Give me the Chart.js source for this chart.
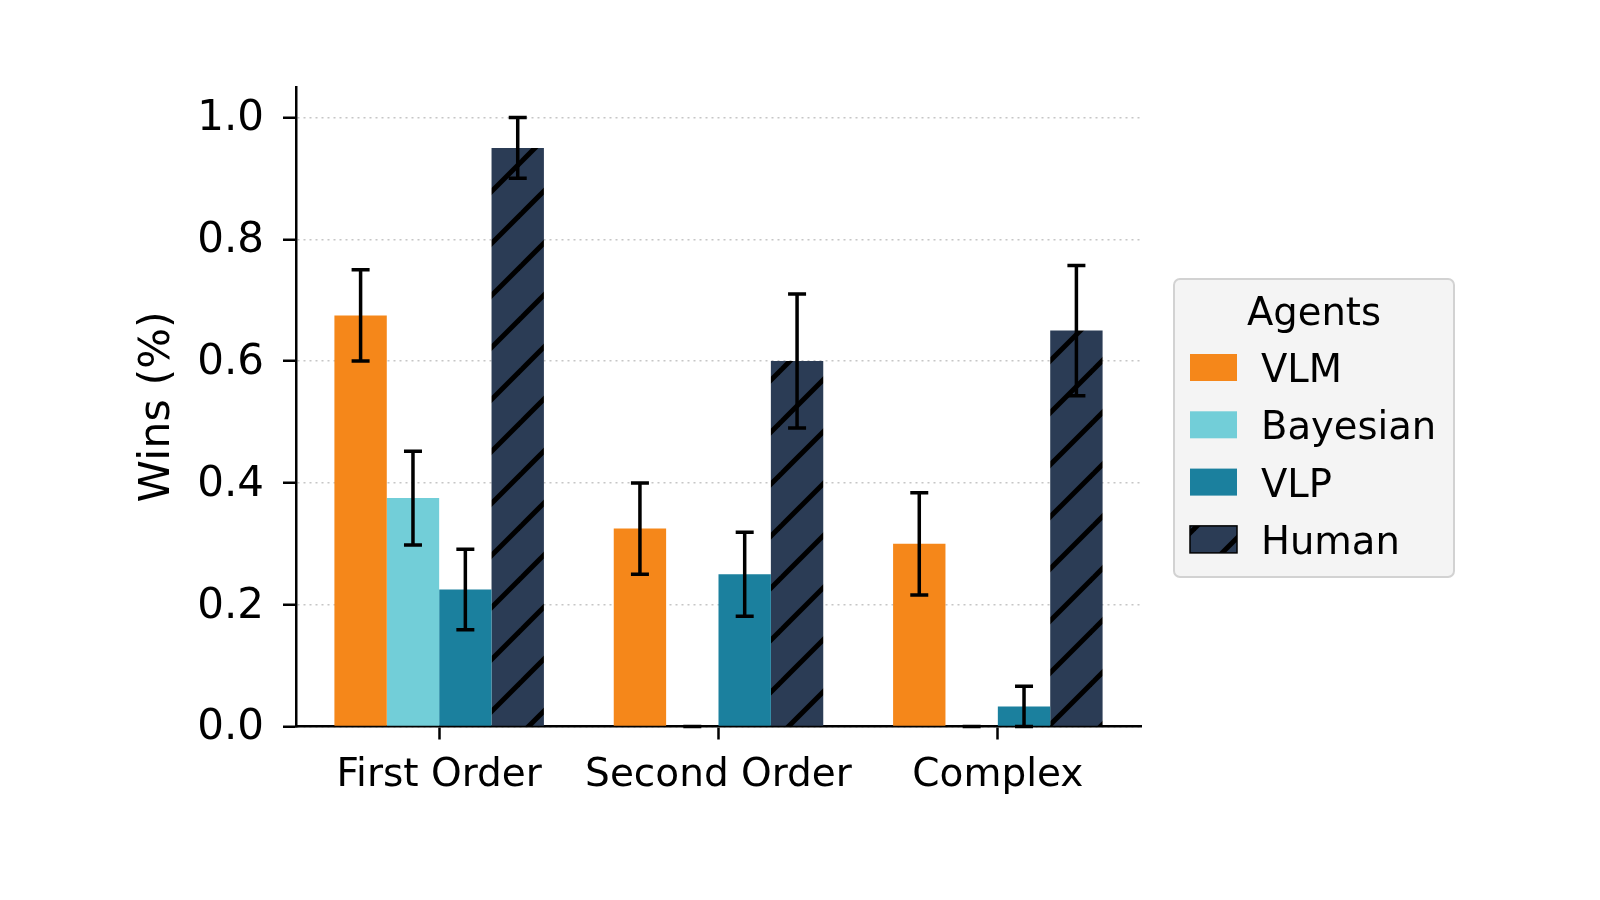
<!DOCTYPE html>
<html><head><meta charset="utf-8">
<script src="https://cdn.jsdelivr.net/npm/chart.js@4.4.1/dist/chart.umd.min.js"></script>
<style>html,body{margin:0;padding:0;background:#fff;}#wrap{width:1600px;height:900px;position:relative;}</style>
</head><body><div id="wrap"><canvas id="c"></canvas></div>
<script>
const categories = ['First Order', 'Second Order', 'Complex'];
const agentNames = ['VLM', 'Bayesian', 'VLP', 'Human'];
const vlmWins = [0.675, 0.325, 0.30];
const vlmErr = [0.075, 0.075, 0.084];
const bayesianWins = [0.375, 0.0, 0.0];
const bayesianErr = [0.077, 0.0, 0.0];
const vlpWins = [0.225, 0.25, 0.033];
const vlpErr = [0.066, 0.069, 0.033];
const humanWins = [0.95, 0.60, 0.65];
const humanErr = [0.05, 0.11, 0.107];
const yTickValues = [0, 0.2, 0.4, 0.6, 0.8, 1.0];
const yTickLabels = ['0.0', '0.2', '0.4', '0.6', '0.8', '1.0'];
const legendTitle = 'Agents';
const yAxisTitle = 'Wins (%)';

const FONT = "'DejaVu Sans', sans-serif";
const colors = ['#f5871a', '#72ced8', '#1b809e', '#2b3c55'];

function makeHatch(bg) {
  const S = 52, off = 7;
  const c = document.createElement('canvas');
  c.width = S; c.height = S;
  const g = c.getContext('2d');
  g.fillStyle = bg; g.fillRect(0, 0, S, S);
  g.strokeStyle = '#000'; g.lineWidth = 5;
  for (const k of [-1, 0, 1, 2]) {
    const cc = off + k * S;
    g.beginPath(); g.moveTo(cc + 100, -100); g.lineTo(cc - 100, 100); g.stroke();
  }
  return g.createPattern(c, 'repeat');
}
const hatch = makeHatch(colors[3]);

const seriesValues = [vlmWins, bayesianWins, vlpWins, humanWins];
const seriesErr = [vlmErr, bayesianErr, vlpErr, humanErr];

const errorBars = {
  id: 'errorBars',
  afterDatasetsDraw(chart) {
    const ctx = chart.ctx, y = chart.scales.y;
    ctx.save();
    ctx.strokeStyle = '#000'; ctx.lineWidth = 3.5; ctx.lineCap = 'butt';
    chart.data.datasets.forEach((ds, di) => {
      const meta = chart.getDatasetMeta(di);
      meta.data.forEach((bar, i) => {
        const v = ds.data[i], e = ds.err[i];
        const yt = y.getPixelForValue(v + e), yb = y.getPixelForValue(Math.max(0, v - e));
        const x = bar.x, cap = 9;
        ctx.beginPath();
        ctx.moveTo(x, yt); ctx.lineTo(x, yb);
        ctx.moveTo(x - cap, yt); ctx.lineTo(x + cap, yt);
        ctx.moveTo(x - cap, yb); ctx.lineTo(x + cap, yb);
        ctx.stroke();
      });
    });
    ctx.restore();
  }
};

const boxLegend = {
  id: 'boxLegend',
  afterDraw(chart) {
    const ctx = chart.ctx;
    ctx.save();
    const bx = 1174, by = 279, bw = 280, bh = 298;
    ctx.beginPath(); ctx.roundRect(bx, by, bw, bh, 6);
    ctx.fillStyle = '#f4f4f4'; ctx.fill();
    ctx.strokeStyle = '#d2d2d2'; ctx.lineWidth = 2; ctx.stroke();
    ctx.fillStyle = '#000';
    ctx.font = '38.5px ' + FONT;
    ctx.textAlign = 'center'; ctx.textBaseline = 'alphabetic';
    ctx.fillText(legendTitle, bx + bw / 2, 325);
    ctx.textAlign = 'left';
    chart.data.datasets.forEach((ds, i) => {
      const py = 354 + i * 57.3;
      ctx.fillStyle = ds.backgroundColor;
      ctx.fillRect(1190, py, 47, 27);
      if (i === 3) { ctx.strokeStyle = '#000'; ctx.lineWidth = 1.5; ctx.strokeRect(1190, py, 47, 27); }
      ctx.fillStyle = '#000';
      ctx.fillText(ds.label, 1261, py + 28);
    });
    ctx.restore();
  }
};

new Chart(document.getElementById('c'), {
  type: 'bar',
  data: {
    labels: categories,
    datasets: agentNames.map((n, i) => ({
      label: n,
      data: seriesValues[i],
      err: seriesErr[i],
      backgroundColor: i === 3 ? hatch : colors[i],
      borderWidth: 0,
      categoryPercentage: 0.75,
      barPercentage: 1.0
    }))
  },
  options: {
    responsive: true, maintainAspectRatio: false, animation: false,
    devicePixelRatio: 1,
    layout: { padding: { top: 87, right: 459, bottom: 0, left: 0 } },
    plugins: { legend: { display: false }, tooltip: { enabled: false } },
    scales: {
      x: {
        afterFit(s) { s.height = 173.5; },
        afterBuildTicks(s) {
          // matplotlib-like x limits: bars span ±0.375 around each category, plus 5% margin
          if (typeof s._startValue === 'number') { s._startValue = -0.5125; s._valueRange = 3.025; }
        },
        grid: { display: true, drawOnChartArea: false, drawTicks: true, offset: false, tickLength: 13, tickWidth: 2.5, tickColor: '#000' },
        border: { display: true, color: '#000', width: 2.5 },
        ticks: { color: '#000', font: { family: FONT, size: 39 }, padding: 13, maxRotation: 0 }
      },
      y: {
        min: 0, max: 1.05,
        afterFit(s) { s.width = 296; },
        afterBuildTicks(s) { s.ticks = yTickValues.map(v => ({ value: v })); },
        grid: { color: '#c6c6c6', lineWidth: 1.5, drawTicks: true, tickLength: 13, tickWidth: 2.5, tickColor: '#000' },
        border: { display: true, color: '#000', width: 2.5, dash: [2, 4] },
        ticks: { color: '#000', font: { family: FONT, size: 42 }, padding: 19, labelOffset: 2,
          callback(v, i) { return yTickLabels[i]; } },
        title: { display: true, text: yAxisTitle, color: '#000', font: { family: FONT, size: 43, lineHeight: 1 }, padding: { top: 136, bottom: 0 } }
      }
    }
  },
  plugins: [errorBars, boxLegend]
});
</script></body></html>
